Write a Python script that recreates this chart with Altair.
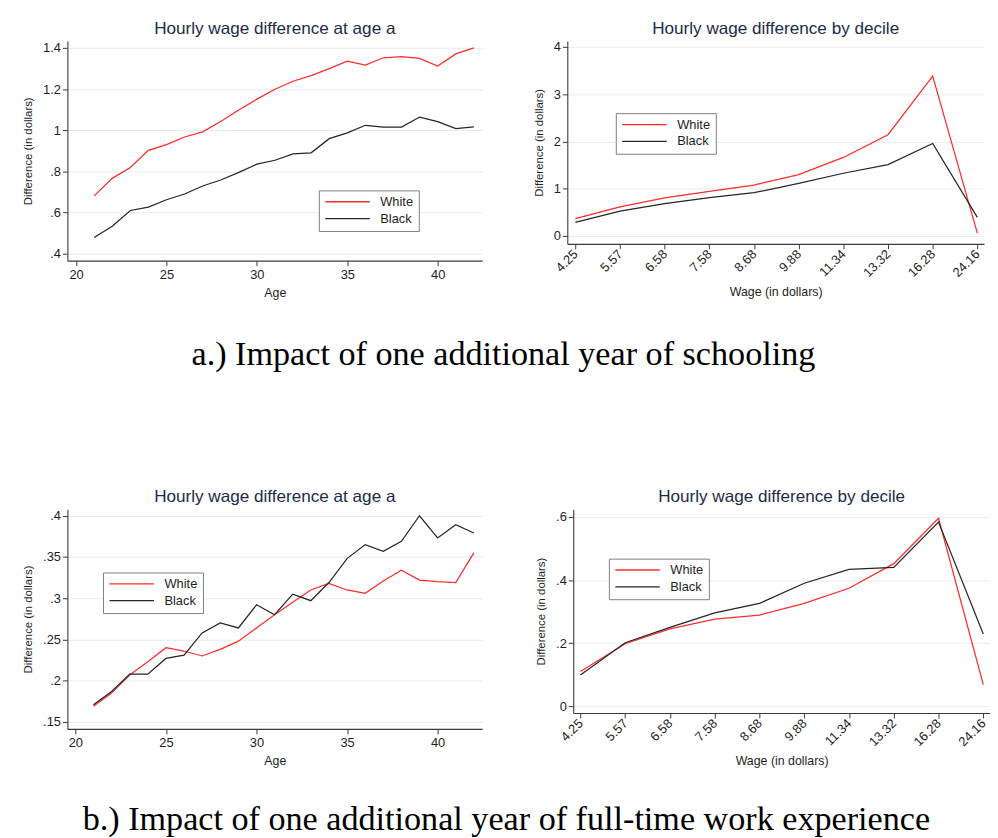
import altair as alt
import pandas as pd

# ---------------- data ----------------
AGES = list(range(21, 43))
SCHOOL_AGE_WHITE = [0.681, 0.766, 0.819, 0.902, 0.930, 0.967, 0.992, 1.042, 1.098, 1.151, 1.199,
                    1.238, 1.265, 1.299, 1.336, 1.317, 1.352, 1.358, 1.349, 1.312, 1.371, 1.400]
SCHOOL_AGE_BLACK = [0.479, 0.533, 0.610, 0.626, 0.662, 0.690, 0.729, 0.758, 0.795, 0.835, 0.854,
                    0.885, 0.890, 0.959, 0.987, 1.024, 1.015, 1.015, 1.064, 1.042, 1.008, 1.016]

DECILE_LABELS = ["4.25", "5.57", "6.58", "7.58", "8.68", "9.88", "11.34", "13.32", "16.28", "24.16"]
DECILE_IDX = list(range(1, 11))
SCHOOL_DEC_WHITE = [0.363, 0.614, 0.803, 0.942, 1.075, 1.298, 1.661, 2.143, 3.386, 0.056]
SCHOOL_DEC_BLACK = [0.286, 0.524, 0.684, 0.810, 0.914, 1.110, 1.326, 1.508, 1.955, 0.391]

EXP_AGE_WHITE = [0.169, 0.185, 0.207, 0.223, 0.240, 0.236, 0.230, 0.238, 0.248, 0.264, 0.280,
                 0.295, 0.310, 0.318, 0.310, 0.306, 0.321, 0.334, 0.322, 0.320, 0.319, 0.355]
EXP_AGE_BLACK = [0.171, 0.187, 0.208, 0.208, 0.227, 0.231, 0.258, 0.270, 0.264, 0.292, 0.280,
                 0.305, 0.297, 0.319, 0.348, 0.365, 0.357, 0.369, 0.400, 0.373, 0.389, 0.379]

EXP_DEC_WHITE = [0.110, 0.198, 0.245, 0.276, 0.289, 0.326, 0.374, 0.452, 0.596, 0.068]
EXP_DEC_BLACK = [0.099, 0.201, 0.250, 0.296, 0.326, 0.390, 0.434, 0.440, 0.584, 0.229]

SERIES = ["White", "Black"]
COLORS = ["#ff2b2b", "#262626"]

AGE_TICKS = [20, 25, 30, 35, 40]
TITLE_AGE = "Hourly wage difference at age a"
TITLE_DEC = "Hourly wage difference by decile"
CAPTION_A = "a.) Impact of one additional year of schooling"
CAPTION_B = "b.) Impact of one additional year of full-time work experience"

SANS = "Liberation Sans"
SERIF = "Liberation Serif"
INK = "#1e1e1e"
TITLE_INK = "#1b2a4c"


def frame(xs, white, black):
    rows = []
    for name, vals in zip(SERIES, [white, black]):
        for x, v in zip(xs, vals):
            rows.append({"x": x, "y": v, "series": name})
    return pd.DataFrame(rows)


Y_LABEL_EXPR = ("datum.value == 0 ? '0' : (datum.value < 1 ? "
                "substring(format(datum.value, '.2~f'), 1) : format(datum.value, '.2~f'))")
DEC_LABEL_EXPR = "[" + ",".join("'" + s + "'" for s in DECILE_LABELS) + "][datum.value - 1]"


def panel(df, title, x_domain, x_values, x_title, x_label_expr, x_angle,
          y_domain, y_values, w, h, lx, ly, ytitle_pad=9):
    x_axis = dict(values=x_values, title=x_title, grid=False, labelAngle=x_angle,
                  labelFontSize=13, titleFontSize=12.5, titlePadding=5,
                  labelPadding=3)
    if x_label_expr:
        x_axis["labelExpr"] = x_label_expr
    if x_angle != 0:
        x_axis["labelAlign"] = "right"
        x_axis["labelBaseline"] = "middle"
        x_axis["titlePadding"] = 6
    return alt.Chart(df).mark_line(strokeWidth=1.25, clip=True).encode(
        x=alt.X("x:Q", scale=alt.Scale(domain=x_domain, nice=False, zero=False),
                axis=alt.Axis(**x_axis)),
        y=alt.Y("y:Q", scale=alt.Scale(domain=y_domain, nice=False, zero=False),
                axis=alt.Axis(values=y_values, labelExpr=Y_LABEL_EXPR,
                              title="Difference (in dollars)", grid=True,
                              labelFontSize=13, titleFontSize=11.5, titlePadding=ytitle_pad)),
        color=alt.Color("series:N",
                        scale=alt.Scale(domain=SERIES, range=COLORS),
                        legend=alt.Legend(orient="none", legendX=lx, legendY=ly, title=None,
                                          direction="vertical", strokeColor="#7f7f7f",
                                          fillColor="white", padding=5,
                                          symbolType="M-1,0H8", symbolSize=100,
                                          symbolStrokeWidth=1.3, labelFont=SANS,
                                          labelFontSize=13, labelColor=INK,
                                          labelOffset=44, rowPadding=3)),
        order=alt.Order("x:Q"),
    ).properties(
        width=w, height=h,
        title=alt.TitleParams(title, anchor="middle", frame="group", font=SANS,
                              fontSize=17.3, fontWeight="normal", color=TITLE_INK, offset=4),
    )


tl = panel(frame(AGES, SCHOOL_AGE_WHITE, SCHOOL_AGE_BLACK), TITLE_AGE,
           [19.52, 42.46], AGE_TICKS, "Age", None, 0,
           [0.366, 1.434], [0.4, 0.6, 0.8, 1.0, 1.2, 1.4], 419, 222, 254, 151)
tr = panel(frame(DECILE_IDX, SCHOOL_DEC_WHITE, SCHOOL_DEC_BLACK), TITLE_DEC,
           [0.82, 10.15], DECILE_IDX, "Wage (in dollars)", DEC_LABEL_EXPR, -45,
           [-0.17, 4.13], [0, 1, 2, 3, 4], 421, 205, 49, 73)
bl = panel(frame(AGES, EXP_AGE_WHITE, EXP_AGE_BLACK), TITLE_AGE,
           [19.56, 42.46], AGE_TICKS, "Age", None, 0,
           [0.1416, 0.408], [0.15, 0.2, 0.25, 0.3, 0.35, 0.4], 419, 222, 36, 64)
br = panel(frame(DECILE_IDX, EXP_DEC_WHITE, EXP_DEC_BLACK), TITLE_DEC,
           [0.84, 10.15], DECILE_IDX, "Wage (in dollars)", DEC_LABEL_EXPR, -45,
           [-0.022, 0.625], [0, 0.2, 0.4, 0.6], 421, 206, 36, 50)


def caption(text, offset):
    return alt.TitleParams(text, orient="bottom", anchor="middle", font=SERIF, fontSize=34.5,
                           fontWeight="normal", color="black", offset=offset)


row1 = alt.hconcat(tl, tr, spacing=51, title=caption(CAPTION_A, 40)).resolve_scale(color="independent")
row2 = alt.hconcat(bl, br, spacing=54, title=caption(CAPTION_B, 37)).resolve_scale(color="independent")

chart = alt.vconcat(row1, row2, spacing=117).resolve_scale(color="independent").properties(
    padding={"left": 14, "top": 7, "right": 0, "bottom": 0}
).configure(font=SANS, background="white").configure_view(stroke=None).configure_axis(
    domainColor="#3a3a3a", domainWidth=1.1, tickColor="#3a3a3a", tickSize=5,
    labelColor=INK, titleColor=INK, titleFontWeight="normal", labelFont=SANS, titleFont=SANS,
    gridColor="#e5edf0", gridWidth=1,
)

chart.save("out.html", embed_options={"renderer": "svg", "actions": False})
